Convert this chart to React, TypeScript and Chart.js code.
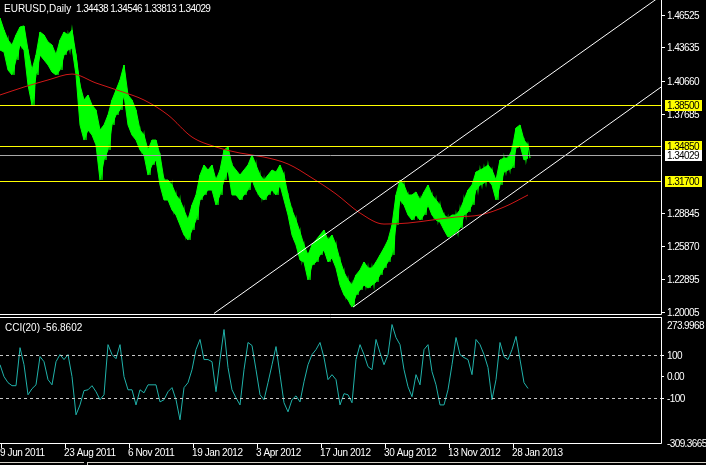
import React, { useEffect, useRef } from "react";
import { Chart, registerables } from "chart.js";
Chart.register(...registerables);

// ---------------- data ----------------
const symbolName = "EURUSD,Daily";
const lastBarOHLC = [1.34438, 1.34546, 1.33813, 1.34029];
const lastPrice = 1.34029;

// one sample every 4 daily bars (bar index = i * barStep)
const barStep = 4;
const highs = [
  1.4626, 1.4519, 1.4429, 1.4385, 1.4474, 1.4546, 1.4555, 1.434, 1.4161, 1.4295,
  1.4501, 1.4474, 1.4412, 1.4385, 1.4295, 1.4429, 1.4501, 1.4474, 1.4519, 1.4295,
  1.4027, 1.3893, 1.3938, 1.3848, 1.3804, 1.3625, 1.367, 1.3759, 1.3893, 1.3982,
  1.4072, 1.4206, 1.3938, 1.3893, 1.3804, 1.3625, 1.358, 1.3446, 1.3535, 1.3535,
  1.3401, 1.3178, 1.3178, 1.3133, 1.3044, 1.2999, 1.291, 1.282, 1.2954, 1.3044,
  1.3222, 1.3312, 1.3267, 1.3312, 1.3178, 1.3267, 1.3446, 1.3473, 1.3312, 1.3267,
  1.3222, 1.3267, 1.3312, 1.3401, 1.3312, 1.3222, 1.3178, 1.3222, 1.3267, 1.3249,
  1.3312, 1.3222, 1.3044, 1.291, 1.282, 1.2713, 1.2597, 1.2507, 1.2597, 1.2641,
  1.2686, 1.2731, 1.2641, 1.2686, 1.2597, 1.2463, 1.2355, 1.2284, 1.2239, 1.2329,
  1.2373, 1.2445, 1.2391, 1.2391, 1.2445, 1.2507, 1.257, 1.2641, 1.2776, 1.3044,
  1.3178, 1.3133, 1.3044, 1.3044, 1.3071, 1.2999, 1.3071, 1.3133, 1.3044, 1.2999,
  1.2954, 1.2865, 1.2838, 1.2865, 1.2865, 1.291, 1.2999, 1.3088, 1.3133, 1.3249,
  1.3267, 1.3285, 1.3312, 1.3267, 1.3178, 1.3357, 1.3374, 1.3374, 1.3446, 1.3643,
  1.367, 1.3535, 1.3491,
];
const lows = [
  1.434, 1.4322, 1.4161, 1.4117, 1.4251, 1.4385, 1.434, 1.4027, 1.3848, 1.4117,
  1.4295, 1.4251, 1.4206, 1.4143, 1.4117, 1.4161, 1.4295, 1.434, 1.4358, 1.4117,
  1.367, 1.3535, 1.3625, 1.358, 1.3491, 1.3178, 1.3357, 1.3446, 1.367, 1.3759,
  1.3804, 1.3938, 1.367, 1.358, 1.3535, 1.3446, 1.3401, 1.3222, 1.3312, 1.3357,
  1.3133, 1.2999, 1.2999, 1.291, 1.2865, 1.2776, 1.2686, 1.2641, 1.2731, 1.282,
  1.2999, 1.3044, 1.3088, 1.3088, 1.2954, 1.3044, 1.3178, 1.3267, 1.3044, 1.3044,
  1.2999, 1.3044, 1.3088, 1.3178, 1.3088, 1.3026, 1.2999, 1.3044, 1.3088, 1.3044,
  1.3133, 1.2999, 1.2865, 1.2686, 1.2597, 1.2463, 1.2445, 1.2284, 1.2418, 1.2445,
  1.2507, 1.2552, 1.2445, 1.248, 1.2391, 1.2239, 1.215, 1.2105, 1.2042, 1.215,
  1.2194, 1.2239, 1.2212, 1.2239, 1.2266, 1.2329, 1.2391, 1.2445, 1.2507, 1.2776,
  1.2999, 1.2954, 1.2865, 1.282, 1.2865, 1.282, 1.2865, 1.2954, 1.2865, 1.282,
  1.2802, 1.2731, 1.2668, 1.2686, 1.2713, 1.2749, 1.2865, 1.2892, 1.2954, 1.3088,
  1.3133, 1.3151, 1.3178, 1.3133, 1.2999, 1.3133, 1.3249, 1.3267, 1.3285, 1.3464,
  1.3491, 1.3357, 1.3374,
];

// moving average, one sample every 24 bars
const maStep = 24;
const maValues = [
  1.3938, 1.4009, 1.4072, 1.4125, 1.4045, 1.3973, 1.3893, 1.3759, 1.3562, 1.3473,
  1.3419, 1.3383, 1.3321, 1.3196, 1.3053, 1.2883, 1.2784, 1.2793, 1.282, 1.2847,
  1.2865, 1.2936, 1.3044,
];

// horizontal levels
const levelPrices = [1.385, 1.3485, 1.317];

// trend lines (ray from first anchor through second)
const trendStartBars = [214, 353];
const trendStartPrices = [1.1985, 1.2042];
const trendEndBars = [430, 530];
const trendEndPrices = [1.3357, 1.3172];

// price axis
const priceMin = 1.198;
const priceMax = 1.4787;
const priceTicks = [1.46525, 1.43635, 1.4066, 1.37685, 1.28845, 1.2587, 1.22895, 1.20005];

// CCI(20), one sample every 4 bars
const cciPeriod = 20;
const cciStep = 4;
const cciValues = [
  53, -2, -30, -44, -44, 132, 53, -86, -58, -40,
  91, 67, -16, -40, 67, 100, 77, 100, -2, -179,
  -133, -67, -63, -44, -72, -109, -86, 146, 100, 81,
  146, -2, -63, -63, -133, -63, -77, -40, -40, -40,
  -119, -109, -72, -53, -109, -202, -53, -30, 30, 123,
  170, 77, 77, 67, -72, 77, 216, 40, -63, -100,
  -133, 30, 156, 142, 30, -86, -109, -30, 53, 137,
  7, -123, -165, -109, -91, -119, -26, 53, 100, 123,
  156, 86, -16, 7, -16, -133, -81, -86, -123, 77,
  146, 100, 44, 30, 170, 109, 53, 100, 239, 179,
  146, 30, -49, -95, 7, -40, 123, 146, 21, -40,
  -133, -133, -63, 53, 179, 100, 86, 77, 7, 170,
  146, 100, 40, -109, -16, 156, 91, 77, 123, 184,
  77, -30, -56.8602,
];
const cciMax = 273.9968;
const cciMin = -309.3665;
const cciLevels = [100, -100];
const cciTicks = [100, 0, -100];

// time axis
const visibleBars = 661;
const dateTickBars = [1, 65, 129, 193, 257, 321, 385, 449, 513];
const dateTickLabels = [
  "9 Jun 2011", "23 Aug 2011", "6 Nov 2011", "19 Jan 2012", "3 Apr 2012",
  "17 Jun 2012", "30 Aug 2012", "13 Nov 2012", "28 Jan 2013",
];

// ---------------- drawing ----------------
const FONT = "10px 'Liberation Sans', Arial, sans-serif";
const WIDTH = 706;
const PRICE_H = 316;
const CCI_H = 149;
const AXIS_W = 45;

function spacing(ctx: any, v: string) {
  try { ctx.letterSpacing = v; } catch (e) {}
}

function axisLabel(ctx: CanvasRenderingContext2D, text: string, yc: number, bg?: string) {
  spacing(ctx, "-0.6px");
  if (bg) {
    ctx.fillStyle = bg;
    ctx.fillRect(665, yc - 5, 37, 11);
    ctx.fillStyle = "#000";
  } else {
    ctx.fillStyle = "#fff";
  }
  ctx.fillText(text, 667, yc + 4);
  spacing(ctx, "0px");
}

const bgPlugin = {
  id: "bg",
  beforeDraw(chart: any) {
    const { ctx, width, height } = chart;
    ctx.save();
    ctx.fillStyle = "#000";
    ctx.fillRect(0, 0, width, height);
    ctx.restore();
  },
};

const pricePlugin = {
  id: "pricePanel",
  afterDatasetsDraw(chart: any) {
    const { ctx, chartArea: a, scales } = chart;
    const ys = scales.y;
    ctx.save();
    ctx.beginPath();
    ctx.rect(a.left, a.top, a.right - a.left, a.bottom - a.top);
    ctx.clip();
    ctx.lineWidth = 1;
    const py = Math.round(ys.getPixelForValue(lastPrice)) + 0.5;
    ctx.strokeStyle = "#a8a8a8";
    ctx.beginPath();
    ctx.moveTo(a.left, py);
    ctx.lineTo(a.right, py);
    ctx.stroke();
    ctx.strokeStyle = "#ffff00";
    levelPrices.forEach((p) => {
      const y = Math.round(ys.getPixelForValue(p)) + 0.5;
      ctx.beginPath();
      ctx.moveTo(a.left, y);
      ctx.lineTo(a.right + 4, y);
      ctx.stroke();
    });
    ctx.restore();
  },
  afterDraw(chart: any) {
    const { ctx, chartArea: a, scales } = chart;
    const ys = scales.y;
    ctx.save();
    ctx.strokeStyle = "#fff";
    ctx.lineWidth = 1;
    ctx.beginPath();
    ctx.moveTo(a.right + 0.5, 0);
    ctx.lineTo(a.right + 0.5, a.bottom + 0.5);
    ctx.moveTo(0, a.bottom + 0.5);
    ctx.lineTo(a.right + 0.5, a.bottom + 0.5);
    ctx.stroke();

    ctx.font = FONT;
    ctx.textBaseline = "alphabetic";
    ctx.textAlign = "left";
    priceTicks.forEach((t) => {
      const y = Math.round(ys.getPixelForValue(t));
      ctx.strokeStyle = "#fff";
      ctx.beginPath();
      ctx.moveTo(a.right + 1, y + 0.5);
      ctx.lineTo(a.right + 4, y + 0.5);
      ctx.stroke();
      axisLabel(ctx, t.toFixed(5), y);
    });
    levelPrices.forEach((p) => {
      const y = Math.round(ys.getPixelForValue(p));
      axisLabel(ctx, p.toFixed(5), y, "#ffff00");
    });
    axisLabel(ctx, lastPrice.toFixed(5), Math.round(ys.getPixelForValue(lastPrice)), "#ffffff");

    ctx.fillStyle = "#fff";
    ctx.fillText(symbolName, 4, 12);
    spacing(ctx, "-0.6px");
    ctx.fillText(lastBarOHLC.map((v) => v.toFixed(5)).join(" "), 76, 12);
    spacing(ctx, "0px");
    ctx.restore();
  },
};

const cciPlugin = {
  id: "cciPanel",
  afterDatasetsDraw(chart: any) {
    const { ctx, chartArea: a, scales } = chart;
    const ys = scales.y;
    ctx.save();
    ctx.strokeStyle = "#c8c8c8";
    ctx.lineWidth = 1;
    ctx.setLineDash([3, 3]);
    cciLevels.forEach((v) => {
      const y = Math.round(ys.getPixelForValue(v)) + 0.5;
      ctx.beginPath();
      ctx.moveTo(a.left, y);
      ctx.lineTo(a.right, y);
      ctx.stroke();
    });
    ctx.restore();
  },
  afterDraw(chart: any) {
    const { ctx, chartArea: a, scales } = chart;
    const ys = scales.y;
    const xs = scales.x;
    ctx.save();
    ctx.strokeStyle = "#fff";
    ctx.lineWidth = 1;
    ctx.beginPath();
    ctx.moveTo(0, a.top + 0.5);
    ctx.lineTo(a.right + 0.5, a.top + 0.5);
    ctx.moveTo(a.right + 0.5, a.top);
    ctx.lineTo(a.right + 0.5, a.bottom + 0.5);
    ctx.moveTo(0, a.bottom + 0.5);
    ctx.lineTo(a.right + 0.5, a.bottom + 0.5);
    ctx.stroke();

    ctx.font = FONT;
    ctx.textAlign = "left";
    ctx.textBaseline = "alphabetic";
    cciTicks.forEach((t) => {
      const y = Math.round(ys.getPixelForValue(t));
      ctx.beginPath();
      ctx.moveTo(a.right + 1, y + 0.5);
      ctx.lineTo(a.right + 3, y + 0.5);
      ctx.stroke();
      axisLabel(ctx, t === 0 ? "0.00" : String(t), y);
    });
    axisLabel(ctx, cciMax.toFixed(4), a.top + 8);
    axisLabel(ctx, cciMin.toFixed(4), a.bottom);

    ctx.fillStyle = "#fff";
    const last = cciValues[cciValues.length - 1];
    ctx.fillText(`CCI(${cciPeriod}) ${last.toFixed(4)}`, 5, a.top + 14);

    spacing(ctx, "-0.4px");
    dateTickBars.forEach((b, i) => {
      const x = Math.round(xs.getPixelForValue(b));
      ctx.beginPath();
      ctx.moveTo(x + 0.5, a.bottom);
      ctx.lineTo(x + 0.5, a.bottom + 5);
      ctx.stroke();
      ctx.fillStyle = "#fff";
      ctx.fillText(dateTickLabels[i], x - 1, a.bottom + 13);
    });
    spacing(ctx, "0px");

    // window tab strip
    ctx.fillStyle = "#d4d0c8";
    ctx.fillRect(0, CCI_H - 3, 84, 1);
    ctx.fillRect(87, CCI_H - 3, WIDTH - 87, 1);
    ctx.fillRect(87, CCI_H - 3, 1, 3);
    ctx.restore();
  },
};

export default function App() {
  const priceRef = useRef<HTMLCanvasElement>(null);
  const cciRef = useRef<HTMLCanvasElement>(null);

  useEffect(() => {
    const highPath = highs.map((h, i) => ({ x: i * barStep, y: h }));
    const lowPath = lows.map((l, i) => ({ x: i * barStep, y: l }));
    const zigzag = highs.flatMap((h, i) => [
      { x: i * barStep, y: h },
      { x: i * barStep + barStep / 2, y: lows[i] },
    ]);
    const maPath = maValues.map((v, i) => ({ x: i * maStep, y: v }));
    const trendSets = trendStartBars.map((b1, k) => {
      const slope = (trendEndPrices[k] - trendStartPrices[k]) / (trendEndBars[k] - b1);
      return {
        type: "line",
        data: [
          { x: b1, y: trendStartPrices[k] },
          { x: visibleBars, y: trendStartPrices[k] + slope * (visibleBars - b1) },
        ],
        borderColor: "#ffffff",
        borderWidth: 1,
        pointRadius: 0,
        clip: 0,
      };
    });

    const pc = new Chart(priceRef.current as HTMLCanvasElement, {
      type: "line",
      data: {
        datasets: [
          ...trendSets,
          {
            type: "line",
            data: maPath,
            borderColor: "#d01818",
            borderWidth: 1,
            pointRadius: 0,
            cubicInterpolationMode: "monotone",
            clip: 0,
          },
          {
            type: "line",
            data: zigzag,
            borderColor: "#00ff00",
            borderWidth: 1.2,
            pointRadius: 0,
            tension: 0,
            clip: 0,
          },
          {
            type: "line",
            data: highPath,
            borderColor: "#00ff00",
            backgroundColor: "#00ff00",
            borderWidth: 1,
            pointRadius: 0,
            tension: 0,
            fill: "+1",
            clip: 0,
          },
          {
            type: "line",
            data: lowPath,
            borderColor: "#00ff00",
            borderWidth: 1,
            pointRadius: 0,
            tension: 0,
            clip: 0,
          },
        ] as any,
      },
      options: {
        responsive: false,
        animation: false,
        devicePixelRatio: 1,
        events: [],
        layout: { padding: { left: 0, top: 0, right: AXIS_W, bottom: 2 } },
        plugins: { legend: { display: false }, tooltip: { enabled: false }, filler: { propagate: false } },
        scales: {
          x: { type: "linear", min: 0, max: visibleBars, display: false },
          y: { type: "linear", min: priceMin, max: priceMax, display: false },
        },
      },
      plugins: [bgPlugin, pricePlugin],
    });

    const cc = new Chart(cciRef.current as HTMLCanvasElement, {
      type: "line",
      data: {
        datasets: [
          {
            data: cciValues.map((v, i) => ({ x: i * cciStep, y: v })),
            borderColor: "#20b2aa",
            borderWidth: 1,
            pointRadius: 0,
            tension: 0,
            clip: 0,
          },
        ] as any,
      },
      options: {
        responsive: false,
        animation: false,
        devicePixelRatio: 1,
        events: [],
        layout: { padding: { left: 0, top: 1, right: AXIS_W, bottom: 22 } },
        plugins: { legend: { display: false }, tooltip: { enabled: false } },
        scales: {
          x: { type: "linear", min: 0, max: visibleBars, display: false },
          y: { type: "linear", min: cciMin, max: cciMax, display: false },
        },
      },
      plugins: [bgPlugin, cciPlugin],
    });

    return () => {
      pc.destroy();
      cc.destroy();
    };
  }, []);

  return (
    <div
      style={{
        position: "fixed",
        left: 0,
        top: 0,
        width: WIDTH,
        height: PRICE_H + CCI_H,
        background: "#000",
        overflow: "hidden",
      }}
    >
      <canvas
        ref={priceRef}
        width={WIDTH}
        height={PRICE_H}
        style={{ position: "absolute", left: 0, top: 0, width: WIDTH, height: PRICE_H }}
      />
      <canvas
        ref={cciRef}
        width={WIDTH}
        height={CCI_H}
        style={{ position: "absolute", left: 0, top: PRICE_H, width: WIDTH, height: CCI_H }}
      />
    </div>
  );
}
